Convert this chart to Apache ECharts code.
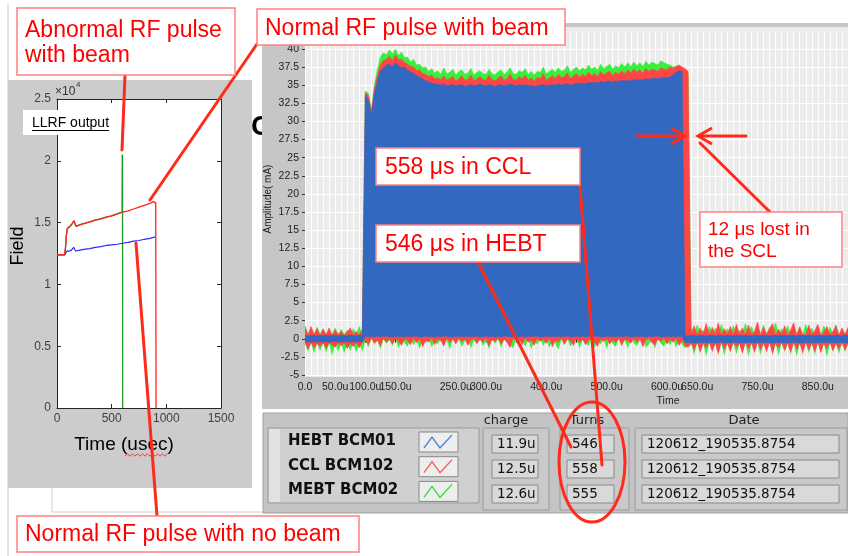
<!DOCTYPE html>
<html><head><meta charset="utf-8">
<script src="https://cdn.jsdelivr.net/npm/echarts@6/dist/echarts.min.js"></script>
<style>html,body{margin:0;padding:0;background:#fff}#c{width:848px;height:556px}</style>
</head><body><div id="c"></div><script>
// ---------------- DATA ----------------
// Left plot: LLRF output (Field vs Time, usec), values in units of 1e4
const llrfRedT   = [0,70,78,86,94,110,130,145,155,165,175,190,220,260,300,350,400,450,500,550,600,650,700,750,800,850,880,895,903,906];
const llrfRedV   = [1.24,1.24,1.30,1.40,1.45,1.46,1.48,1.495,1.515,1.49,1.47,1.475,1.485,1.495,1.505,1.52,1.53,1.545,1.555,1.57,1.585,1.595,1.61,1.625,1.64,1.655,1.67,1.665,1.66,0];
const llrfBlueT  = [0,72,80,90,110,130,145,152,160,170,185,220,260,300,350,400,450,500,550,600,650,700,750,800,850,880,896];
const llrfBlueV  = [1.24,1.24,1.255,1.27,1.27,1.275,1.285,1.30,1.285,1.27,1.275,1.28,1.285,1.29,1.30,1.305,1.315,1.32,1.325,1.333,1.34,1.35,1.355,1.365,1.372,1.38,1.385];
const llrfGreenT = [0,70,78,86,94,110,130,145,155,165,175,190,220,260,300,350,400,450,500,550,595,597,599,601];
const llrfGreenV = [1.24,1.24,1.30,1.40,1.45,1.46,1.48,1.495,1.515,1.49,1.47,1.475,1.485,1.495,1.505,1.52,1.53,1.545,1.555,1.57,1.585,2.05,2.0,0];
const llrfXTicks = [0,500,1000,1500];
const llrfYTicks = [0,0.5,1,1.5,2,2.5];

// Right plot: BCM amplitude (mA) sampled every 5 us from 0 to 900 us (181 samples)
const bcmStepUs = 5;
const blueHi = [
 0.5,0.4,0.5,0.45,0.4,0.5,0.45,0.5,0.4,0.45,
 0.5,0.4,0.5,0.45,0.4,0.5,0.45,0.4,0.5,0.45,
 33.6,33.0,30.8,33.8,35.6,37.0,37.3,37.8,37.9,37.6,
 38.1,37.7,37.4,37.5,37.0,36.9,36.6,36.3,36.1,35.9,
 35.6,35.5,35.3,35.2,35.1,35.0,35.2,34.9,35.0,35.1,
 34.9,35.0,35.1,34.8,35.0,35.1,34.9,35.0,35.2,35.0,
 34.9,35.1,35.0,34.8,35.0,35.1,34.9,35.0,35.2,35.0,
 34.9,35.1,35.0,35.1,34.9,35.0,34.8,34.9,35.0,35.1,
 34.9,35.0,35.1,35.0,35.2,35.0,35.1,35.2,35.0,35.1,
 35.3,35.2,35.3,35.2,35.4,35.3,35.4,35.3,35.5,35.4,
 35.5,35.6,35.4,35.6,35.5,35.7,35.6,35.7,35.6,35.8,
 35.7,35.8,35.7,35.9,35.8,35.9,36.0,35.9,36.0,36.1,
 36.0,36.2,36.4,36.8,37.0,36.9,
 0.45,0.4,0.5,0.45,0.4,0.5,0.45,0.4,0.5,0.45,
 0.4,0.5,0.45,0.4,0.5,0.45,0.4,0.5,0.45,0.4,
 0.5,0.45,0.4,0.5,0.45,0.4,0.5,0.45,0.4,0.5,
 0.45,0.4,0.5,0.45,0.4,0.5,0.45,0.4,0.5,0.45,
 0.4,0.5,0.45,0.4,0.5,0.45,0.4,0.5,0.45,0.4,
 0.5,0.45,0.4,0.5,0.45];
const blueLo = [
 -0.5,-0.45,-0.5,-0.4,-0.5,-0.45,-0.5,-0.4,-0.5,-0.45,
 -0.4,-0.5,-0.45,-0.5,-0.4,-0.5,-0.45,-0.5,-0.4,-0.5,
 0.3,0.25,0.3,0.2,0.3,0.25,0.3,0.3,0.2,0.25,
 0.3,0.25,0.3,0.2,0.3,0.25,0.3,0.3,0.2,0.25,
 0.3,0.25,0.3,0.2,0.3,0.25,0.3,0.3,0.2,0.25,
 0.3,0.25,0.3,0.2,0.3,0.25,0.3,0.3,0.2,0.25,
 0.3,0.25,0.3,0.2,0.3,0.25,0.3,0.3,0.2,0.25,
 0.3,0.25,0.3,0.2,0.3,0.25,0.3,0.3,0.2,0.25,
 0.3,0.25,0.3,0.2,0.3,0.25,0.3,0.3,0.2,0.25,
 0.3,0.25,0.3,0.2,0.3,0.25,0.3,0.3,0.2,0.25,
 0.3,0.25,0.3,0.2,0.3,0.25,0.3,0.3,0.2,0.25,
 0.3,0.25,0.3,0.2,0.3,0.25,0.3,0.3,0.2,0.25,
 0.3,0.25,0.3,0.2,0.3,0.25,
 -0.55,-0.6,-0.5,-0.65,-0.55,-0.6,-0.5,-0.6,-0.55,-0.65,
 -0.55,-0.6,-0.5,-0.65,-0.55,-0.6,-0.5,-0.6,-0.55,-0.65,
 -0.55,-0.6,-0.5,-0.65,-0.55,-0.6,-0.5,-0.6,-0.55,-0.65,
 -0.55,-0.6,-0.5,-0.65,-0.55,-0.6,-0.5,-0.6,-0.55,-0.65,
 -0.55,-0.6,-0.5,-0.65,-0.55,-0.6,-0.5,-0.6,-0.55,-0.65,
 -0.55,-0.6,-0.5,-0.65,-0.55];
const redHi = [
 1.6,0.5,1.7,0.6,1.4,0.5,1.3,0.6,1.5,0.5,
 1.2,0.6,1.0,0.5,0.9,1.5,0.6,1.0,0.5,1.3,
 34.0,33.6,31.4,34.5,36.4,37.8,38.4,38.6,39.0,38.4,
 39.2,38.5,38.6,38.2,37.9,37.6,37.5,37.0,37.1,36.6,
 36.5,36.2,36.4,35.9,36.0,35.8,36.3,35.7,35.9,36.2,
 35.6,35.9,36.3,35.7,35.8,36.4,35.6,35.9,36.2,35.8,
 35.7,36.4,35.8,35.6,36.0,36.3,35.7,35.9,36.5,35.8,
 35.7,36.2,35.9,36.4,35.7,36.0,35.6,36.1,35.9,36.6,
 35.7,36.0,36.3,35.9,36.5,36.0,36.2,36.7,35.9,36.3,
 36.6,36.1,36.5,36.2,36.8,36.3,36.6,36.2,36.9,36.4,
 36.7,36.9,36.3,36.8,36.5,37.0,36.6,37.1,36.7,37.2,
 36.8,37.1,36.7,37.3,36.9,37.2,37.1,36.9,37.4,37.2,
 37.1,37.5,37.3,37.6,37.8,37.5,
 37.3,36.9,
 0.6,1.8,0.5,1.5,0.6,2.1,0.5,1.6,0.6,2.2,
 0.5,1.4,0.6,1.7,0.5,2.0,0.6,1.5,0.5,1.9,
 0.6,1.0,2.3,0.5,1.6,0.6,1.4,2.1,0.5,1.3,
 0.6,1.8,0.5,1.2,2.2,0.5,1.6,0.6,0.5,1.9,
 0.6,1.1,2.0,0.5,0.9,1.7,0.6,1.0,1.8,0.5,
 1.5,0.6,1.6];
const redLo = [
 -0.6,-1.5,-0.6,-1.3,-0.7,-1.1,-0.6,-1.4,-0.6,-0.9,
 -1.2,-0.6,-1.0,-0.6,-1.4,-0.7,-1.1,-0.6,-1.3,-0.6,
 -0.1,-0.9,0.0,-0.6,-0.2,-1.1,0.0,-0.5,-0.1,-0.8,
 0.0,-0.4,-1.0,-0.1,-0.3,-0.9,0.0,-0.6,-0.1,-1.2,
 -0.2,-0.5,0.0,-0.9,-0.1,-0.3,-1.1,0.0,-0.6,-0.1,
 -0.8,0.0,-0.4,-0.1,-1.0,-0.2,0.0,-0.7,-0.1,-0.5,
 0.0,-1.1,-0.2,-0.4,0.0,-0.8,-0.1,-0.6,-1.3,0.0,
 -0.3,-0.1,-0.9,0.0,-0.5,-0.2,-1.0,0.0,-0.4,-0.1,
 -0.7,0.0,-1.2,-0.2,-0.5,0.0,-0.8,-0.1,-0.3,-1.0,
 0.0,-0.6,-0.1,-0.9,-0.2,0.0,-0.5,-1.1,-0.1,-0.4,
 0.0,-0.8,-0.2,-0.6,0.0,-1.0,-0.1,-0.3,-0.7,0.0,
 -0.5,-0.1,-1.2,-0.2,0.0,-0.6,-0.9,-0.1,-0.4,0.0,
 -0.8,-0.1,-0.5,0.0,-1.0,-0.2,
 -1.0,-1.2,
 -0.7,-1.6,-0.6,-2.0,-0.7,-1.3,-0.6,-1.8,-0.7,-2.2,
 -0.6,-1.5,-0.7,-1.9,-0.6,-1.2,-0.7,-2.1,-0.6,-1.4,
 -0.7,-2.0,-0.6,-1.6,-0.7,-1.9,-0.6,-2.2,-0.7,-1.3,
 -0.6,-1.7,-0.7,-2.0,-0.6,-1.5,-0.7,-2.1,-0.6,-1.6,
 -0.7,-1.9,-0.6,-2.0,-0.7,-1.4,-0.6,-1.8,-0.7,-1.5,
 -0.6,-1.7,-0.7];
const greenHi = [
 1.8,0.6,1.5,0.5,1.6,0.6,1.4,0.5,1.0,0.6,
 1.5,0.5,1.3,0.6,1.2,0.5,1.4,0.6,1.7,0.5,
 34.2,33.9,31.6,35.0,37.2,38.9,39.5,39.2,39.9,39.3,
 40.0,39.1,39.6,38.8,38.9,38.2,38.6,37.8,37.9,37.4,
 37.5,36.9,37.3,36.7,37.0,36.5,37.4,36.6,36.8,37.2,
 36.4,36.9,37.1,36.5,36.7,37.3,36.4,36.8,37.0,36.6,
 36.5,37.2,36.6,36.4,36.9,37.1,36.5,36.8,37.4,36.6,
 36.5,37.0,36.8,37.3,36.5,36.9,36.4,36.9,36.8,37.5,
 36.6,36.9,37.2,36.8,37.4,36.9,37.1,37.7,36.8,37.2,
 37.5,37.0,37.4,37.1,37.8,37.2,37.5,37.1,37.9,37.3,
 37.6,37.9,37.2,37.7,37.4,38.0,37.5,38.1,37.6,38.2,
 37.7,38.1,37.6,38.3,37.8,38.2,38.0,37.8,38.4,38.1,
 37.9,37.8,37.5,37.6,37.5,37.3,
 37.0,36.5,
 1.6,0.5,1.9,0.6,1.2,0.5,1.7,0.6,1.5,0.5,
 2.0,0.6,1.4,0.5,1.8,0.6,1.2,0.5,2.1,0.6,
 1.7,0.5,1.5,0.6,1.9,0.5,1.6,0.6,2.2,0.5,
 1.4,0.6,1.8,0.5,1.6,0.6,1.7,0.5,2.0,0.6,
 1.5,0.5,1.3,0.6,1.8,0.5,1.6,0.6,1.9,0.5,
 1.3,0.6,1.0];
const greenLo = [
 -0.7,-1.8,-0.6,-2.0,-0.7,-1.7,-0.6,-1.9,-0.7,-2.3,
 -0.6,-1.8,-0.7,-2.0,-0.6,-1.7,-0.7,-1.9,-0.6,-1.8,
 -0.2,-1.2,0.0,-0.8,-0.3,-1.4,-0.1,-0.7,-0.2,-1.0,
 0.0,-1.3,-0.2,-0.6,-1.1,0.0,-0.9,-0.2,-1.4,-0.1,
 -0.7,0.0,-1.2,-0.3,-0.8,0.0,-1.0,-0.2,-1.5,0.0,
 -0.6,-0.1,-1.1,-0.3,0.0,-1.3,-0.2,-0.8,0.0,-1.0,
 -0.3,-1.4,0.0,-0.7,-0.1,-1.2,-0.2,0.0,-0.9,-1.3,
 0.0,-0.6,-0.2,-1.1,0.0,-1.4,-0.3,-0.8,0.0,-1.0,
 -0.2,-1.2,0.0,-0.7,-1.5,-0.1,-0.9,0.0,-1.1,-0.3,
 0.0,-1.3,-0.2,-0.6,-1.0,0.0,-1.2,-0.3,-0.8,0.0,
 -1.4,-0.1,-0.7,-1.1,0.0,-0.9,-0.2,-1.3,0.0,-0.6,
 -1.0,-0.2,0.0,-1.2,-0.8,-0.1,-1.4,0.0,-0.7,-1.1,
 -0.2,-0.9,0.0,-1.2,-0.3,-0.8,
 -1.3,-1.0,
 -0.7,-2.2,-0.6,-1.5,-0.7,-2.4,-0.6,-1.8,-0.7,-2.0,
 -0.6,-2.3,-0.7,-1.6,-0.6,-2.1,-0.7,-1.9,-0.6,-2.4,
 -0.7,-1.7,-0.6,-2.2,-0.7,-1.5,-0.6,-2.0,-0.7,-2.3,
 -0.6,-1.8,-0.7,-2.1,-0.6,-2.4,-0.7,-1.6,-0.6,-2.0,
 -0.7,-2.2,-0.6,-1.9,-0.7,-2.5,-0.6,-1.7,-0.7,-2.1,
 -0.6,-1.8,-0.7];
const bcmYTicks = [-5,-2.5,0,2.5,5,7.5,10,12.5,15,17.5,20,22.5,25,27.5,30,32.5,35,37.5,40];
const bcmXLabels = [0,50,100,150,250,300,400,500,600,650,750,850,900];

// Table
const bcmNames  = ['HEBT BCM01','CCL BCM102','MEBT BCM02'];
const bcmCharge = ['11.9u','12.5u','12.6u'];
const bcmTurns  = ['546','558','555'];
const bcmDate   = ['120612_190535.8754','120612_190535.8754','120612_190535.8754'];

// ---------------- CHART ----------------
const chart = echarts.init(document.getElementById('c'));
const FA = '"Liberation Sans", Arial, sans-serif';
const FD = '"DejaVu Sans", sans-serif';
const times = blueHi.map((_, i) => String(i * bcmStepUs));

const zip = (t, v) => t.map((x, i) => [x, v[i]]);
function band(name, lo, hi, color, z) {
  return [
    {type:'line', name:name+'_lo', xAxisIndex:2, yAxisIndex:2, stack:name, stackStrategy:'all',
     symbol:'none', data: lo.slice(), lineStyle:{opacity:0, width:0}, z, silent:true},
    {type:'line', name, xAxisIndex:2, yAxisIndex:2, stack:name, stackStrategy:'all',
     symbol:'none', data: hi.map((v,i)=> +(v - lo[i]).toFixed(3)),
     lineStyle:{color, width:0.6}, areaStyle:{color, opacity:1}, z, silent:true}
  ];
}

const RED = '#ff2a1a';
const g = [];
// background pieces
g.push({type:'line', shape:{x1:8,y1:4,x2:8,y2:556}, style:{stroke:'#c8c8c8', lineWidth:1}, z:-30});
g.push({type:'text', x:251, y:127, style:{text:'C', font:'bold 28px '+FA, fill:'#000', textVerticalAlign:'middle'}, z:-30});
g.push({type:'rect', shape:{x:8,y:80,width:244,height:408}, style:{fill:'#cccccc'}, z:-20});
g.push({type:'rect', shape:{x:57,y:99,width:164,height:309}, style:{fill:'#ffffff'}, z:-19});
g.push({type:'polyline', shape:{points:[[52,488],[52,512],[263,512]]}, style:{stroke:'#cfcfcf', fill:null, lineWidth:1}, z:-20});
g.push({type:'rect', shape:{x:262,y:23,width:586,height:386}, style:{fill:'#c6c6c6'}, z:-20});
g.push({type:'rect', shape:{x:305,y:27,width:543,height:350}, style:{fill:'#ececec'}, z:-19});
g.push({type:'rect', shape:{x:263,y:413,width:585,height:100}, style:{fill:'#c4c4c4', stroke:'#a0a0a0', lineWidth:1}, z:-20});

// left plot texts
g.push({type:'rect', shape:{x:23,y:110,width:87,height:25}, style:{fill:'#fff'}, z:5});
g.push({type:'text', x:32, y:123, style:{text:'LLRF output', font:'14px '+FA, fill:'#000', textVerticalAlign:'middle'}, z:6});
g.push({type:'line', shape:{x1:32,y1:130.5,x2:109,y2:130.5}, style:{stroke:'#000', lineWidth:1}, z:6});
g.push({type:'text', x:55, y:92, style:{text:'×10', font:'12px '+FA, fill:'#333', textVerticalAlign:'middle'}, z:6});
g.push({type:'text', x:76, y:85, style:{text:'4', font:'8px '+FA, fill:'#333', textVerticalAlign:'middle'}, z:6});
g.push({type:'text', x:18, y:246, rotation:Math.PI/2, style:{text:'Field', font:'18px '+FA, fill:'#000', textAlign:'center', textVerticalAlign:'middle'}, z:6});
g.push({type:'text', x:124, y:445, style:{text:'Time (usec)', font:'19px '+FA, fill:'#000', textAlign:'center', textVerticalAlign:'middle'}, z:6});
const sq = []; for (let x = 125, k = 0; x <= 168; x += 2.5, k++) sq.push([x, 455 + (k % 2 ? -1.2 : 1.2)]);
g.push({type:'polyline', shape:{points:sq}, style:{stroke:'#ff3030', fill:null, lineWidth:1}, z:6});

// right plot texts
g.push({type:'text', x:268, y:199, rotation:Math.PI/2, style:{text:'Amplitude( mA)', font:'10px '+FA, fill:'#222', textAlign:'center', textVerticalAlign:'middle'}, z:6});
g.push({type:'text', x:668, y:401, style:{text:'Time', font:'10.5px '+FA, fill:'#222', textAlign:'center', textVerticalAlign:'middle'}, z:6});

// table
g.push({type:'rect', shape:{x:268,y:428,width:211,height:75}, style:{fill:'#d0d0d0', stroke:'#9a9a9a', lineWidth:1}, z:-10});
g.push({type:'rect', shape:{x:269,y:429,width:11,height:73}, style:{fill:'#e2e2e2'}, z:-9});
const cols = [
  {x:483, w:66, bx:492, bw:46, head:'charge', hx:506, vals:bcmCharge},
  {x:560, w:69, bx:567, bw:47, head:'Turns', hx:587, vals:bcmTurns},
  {x:635, w:212, bx:642, bw:197, head:'Date', hx:744, vals:bcmDate}
];
const rowY = [435, 460, 485];
cols.forEach(c => {
  g.push({type:'rect', shape:{x:c.x,y:428,width:c.w,height:82}, style:{fill:'#c9c9c9', stroke:'#9a9a9a', lineWidth:1}, z:-10});
  g.push({type:'text', x:c.hx, y:421, style:{text:c.head, font:'13px '+FD, fill:'#222', textAlign:'center', textVerticalAlign:'middle'}, z:6});
  c.vals.forEach((v, r) => {
    g.push({type:'rect', shape:{x:c.bx,y:rowY[r],width:c.bw,height:18}, style:{fill:'#d9d9d9', stroke:'#8a8a8a', lineWidth:1}, z:-9});
    g.push({type:'text', x:c.bx+5, y:rowY[r]+9.5, style:{text:v, font:'13.5px '+FD, fill:'#111', textVerticalAlign:'middle'}, z:6});
  });
});
const swCol = ['#4a80d8', '#ff5a5a', '#33dd33'];
bcmNames.forEach((n, r) => {
  const y = 441 + r * 24.7;
  g.push({type:'text', x:288, y:y, style:{text:n, font:'bold 15px '+FD, fill:'#111', textVerticalAlign:'middle'}, z:6});
  const sy = 432 + r * 24.7;
  g.push({type:'rect', shape:{x:419,y:sy,width:39,height:20}, style:{fill:'#eeeeee', stroke:'#888', lineWidth:1}, z:5});
  g.push({type:'polyline', shape:{points:[[424,sy+16],[432,sy+5],[440,sy+16],[452,sy+3]]}, style:{stroke:swCol[r], fill:null, lineWidth:1.3}, z:6});
});

// annotation boxes
function annot(x, y, w, h, lines, fs, tx, ty0, lh) {
  g.push({type:'rect', shape:{x,y,width:w,height:h}, style:{fill:'#fff', stroke:'#ff8080', lineWidth:1.5}, z:90});
  lines.forEach((t, i) => g.push({type:'text', x:tx, y:ty0 + i*lh, style:{text:t, font:fs+'px '+FA, fill:'#ff0000', textVerticalAlign:'middle'}, z:91}));
}
annot(17, 8, 218, 67, ['Abnormal RF pulse','with beam'], 23, 25, 31, 25);
annot(257, 9, 308, 36, ['Normal RF pulse with beam'], 23, 265, 28.5, 0);
annot(376, 148, 204, 37, ['558 μs in CCL'], 23, 385, 167.5, 0);
annot(376, 225, 204, 37, ['546 μs in HEBT'], 23, 385, 244.5, 0);
annot(700, 212, 142, 55, ['12 μs lost in','the SCL'], 19, 708, 230, 21.5);
annot(17, 516, 342, 36, ['Normal RF pulse with no beam'], 23, 25, 535, 0);

// red connector lines and marks
[[125,75,122,150],[257,44,150,200],[157,516,136,243],[478,262,571,447],[580,186,602,465],[770,212,700,143],
 [637,136,684,136],[746,136,699,136]].forEach(l =>
  g.push({type:'line', shape:{x1:l[0],y1:l[1],x2:l[2],y2:l[3]}, style:{stroke:RED, lineWidth:3, lineCap:'round'}, z:80}));
g.push({type:'polyline', shape:{points:[[671,128],[685,136],[671,144]]}, style:{stroke:RED, fill:null, lineWidth:3, lineJoin:'miter'}, z:80});
g.push({type:'polyline', shape:{points:[[712,128],[698,136],[712,144]]}, style:{stroke:RED, fill:null, lineWidth:3, lineJoin:'miter'}, z:80});
g.push({type:'ellipse', shape:{cx:592, cy:462, rx:33, ry:60}, style:{stroke:RED, fill:null, lineWidth:3}, z:80});

const axC = '#262626';
const llrfAxis = (pos, showLabel, extra) => Object.assign({
  gridIndex:0, type:'value', position:pos,
  axisLine:{onZero:false, lineStyle:{color:axC}},
  axisTick:{inside:true, length:4, lineStyle:{color:axC}},
  axisLabel: showLabel ? {fontSize:12, color:'#404040', margin:5, fontFamily:FA, formatter:(v)=> String(v)} : {show:false},
  splitLine:{show:false}
}, extra);
const option = {
  animation: false,
  backgroundColor: '#ffffff',
  grid: [
    {left:57, top:99, width:164, height:309},
    {left:305, top:30.89, width:549, bottom:181}
  ],
  xAxis: [
    llrfAxis('bottom', true, {min:llrfXTicks[0], max:llrfXTicks[llrfXTicks.length-1], interval:500}),
    llrfAxis('top', false, {min:llrfXTicks[0], max:llrfXTicks[llrfXTicks.length-1], interval:500}),
    {gridIndex:1, type:'category', data: times, boundaryGap:false, offset:2,
     axisLine:{show:false},
     axisTick:{show:true, length:4, interval:(i)=> i % 10 === 0, lineStyle:{color:'#333'}},
     axisLabel:{interval:(i, v)=> bcmXLabels.indexOf(Number(v)) >= 0,
       formatter:(v)=> Number(v) === 0 ? '0.0' : Number(v).toFixed(1) + 'u',
       fontSize:10.5, color:'#222', margin:5, fontFamily:FA},
     splitLine:{show:true, interval:(i)=> i % 2 === 0, lineStyle:{color:'#ffffff', width:1}}}
  ],
  yAxis: [
    Object.assign(llrfAxis('left', true, {min:llrfYTicks[0], max:llrfYTicks[llrfYTicks.length-1], interval:0.5}),
      {axisLabel:{fontSize:12, color:'#404040', margin:6, fontFamily:FA, formatter:(v)=> String(v)}}),
    llrfAxis('right', false, {min:llrfYTicks[0], max:llrfYTicks[llrfYTicks.length-1], interval:0.5}),
    {gridIndex:1, type:'value', min:-5, max:42.5, interval:2.5,
     axisLine:{show:false, onZero:false},
     axisTick:{show:true, length:3, lineStyle:{color:'#333'}, customValues: bcmYTicks},
     axisLabel:{fontSize:10.5, color:'#222', margin:6, fontFamily:FA, customValues: bcmYTicks,
       formatter:(v)=> v > 40 ? '' : String(v)},
     splitLine:{show:true, lineStyle:{color:'#ffffff', width:1}}}
  ],
  series: [
    ...band('MEBT BCM02', greenLo, greenHi, '#3cee3c', 2),
    ...band('CCL BCM102', redLo, redHi, '#ff4646', 3),
    ...band('HEBT BCM01', blueLo, blueHi, '#3368c0', 4),
    {type:'line', name:'llrf green', xAxisIndex:0, yAxisIndex:0, symbol:'none', data: zip(llrfGreenT, llrfGreenV),
     lineStyle:{color:'#1f9a1f', width:1.3}, z:5},
    {type:'line', name:'llrf blue', xAxisIndex:0, yAxisIndex:0, symbol:'none', data: zip(llrfBlueT, llrfBlueV),
     lineStyle:{color:'#2a2aff', width:1.2}, z:6},
    {type:'line', name:'llrf red', xAxisIndex:0, yAxisIndex:0, symbol:'none', data: zip(llrfRedT, llrfRedV),
     lineStyle:{color:'#ff2020', width:1.3}, z:7}
  ],
  graphic: g
};
chart.setOption(option);
</script></body></html>
